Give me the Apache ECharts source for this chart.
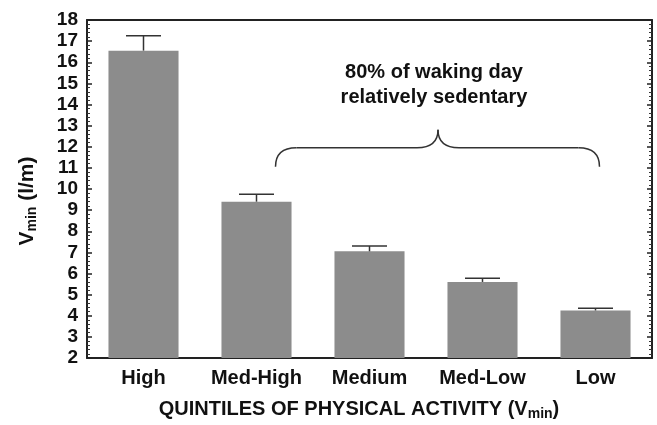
<!DOCTYPE html>
<html>
<head>
<meta charset="utf-8">
<script src="https://cdn.jsdelivr.net/npm/echarts@6/dist/echarts.min.js"></script>
<style>html,body{margin:0;padding:0;background:#fff}#c{width:657px;height:425px}</style>
</head>
<body>
<div id="c"></div>
<script>
const categories = ['High', 'Med-High', 'Medium', 'Med-Low', 'Low'];
const values = [16.55, 9.4, 7.05, 5.6, 4.25];
const errTop = [17.25, 9.75, 7.3, 5.77, 4.35];
const yTicks = [2, 18, 1];
const noteText = ['80% of waking day', 'relatively sedentary'];
const braceSpan = [1, 4];
const braceLevels = [11.05, 11.95, 12.8];

const FONT = '"Liberation Sans", Arial, sans-serif';
const chart = echarts.init(document.getElementById('c'));

const errData = values.map((v, i) => [i, v, errTop[i]]);

chart.setOption({
  animation: false,
  backgroundColor: '#fff',
  grid: { left: 87, right: 5, top: 20, bottom: 67, containLabel: false },
  xAxis: [{
    type: 'category', data: categories, position: 'bottom',
    axisLine: { lineStyle: { color: '#222', width: 2 } },
    axisTick: { show: false },
    axisLabel: { interval: 0, hideOverlap: false, color: '#111', fontFamily: FONT, fontWeight: 'bold', fontSize: 20, margin: 10 }
  }, {
    type: 'category', data: categories, position: 'top',
    axisLine: { show: true, lineStyle: { color: '#222', width: 2 } },
    axisTick: { show: false }, axisLabel: { show: false }
  }],
  yAxis: [{
    type: 'value', min: yTicks[0], max: yTicks[1], interval: yTicks[2],
    axisLine: { show: true, lineStyle: { color: '#222', width: 2 } },
    axisTick: { show: true, inside: true, length: 5, lineStyle: { color: '#222', width: 1.5 } },
    minorTick: { show: true, splitNumber: 5, length: 3, lineStyle: { color: '#333', width: 1 } },
    splitLine: { show: false },
    axisLabel: { hideOverlap: false, showMinLabel: true, showMaxLabel: true, color: '#111', fontFamily: FONT, fontWeight: 'bold', fontSize: 19, lineHeight: 19, margin: 9 }
  }, {
    type: 'value', position: 'right', min: yTicks[0], max: yTicks[1], interval: yTicks[2],
    axisLine: { show: true, lineStyle: { color: '#222', width: 2 } },
    axisTick: { show: true, inside: true, length: 5, lineStyle: { color: '#222', width: 1.5 } },
    minorTick: { show: true, splitNumber: 5, length: 3, lineStyle: { color: '#333', width: 1 } },
    splitLine: { show: false },
    axisLabel: { show: false }
  }],
  series: [{
    type: 'bar', data: values, barWidth: '62%',
    itemStyle: { color: '#8c8c8c' }, z: 2
  }, {
    type: 'custom', data: errData, z: 3,
    renderItem: function (params, api) {
      const base = api.coord([api.value(0), api.value(1)]);
      const top = api.coord([api.value(0), api.value(2)]);
      const hw = 17.5;
      return {
        type: 'group',
        children: [
          { type: 'line', shape: { x1: base[0], y1: base[1], x2: top[0], y2: top[1] }, style: { stroke: '#333', lineWidth: 1.5 } },
          { type: 'line', shape: { x1: top[0] - hw, y1: top[1], x2: top[0] + hw, y2: top[1] }, style: { stroke: '#333', lineWidth: 1.5 } }
        ]
      };
    }
  }]
});

// annotation brace anchored in data coordinates
const pL = chart.convertToPixel({ gridIndex: 0 }, [braceSpan[0], braceLevels[0]]);
const pR = chart.convertToPixel({ gridIndex: 0 }, [braceSpan[1], braceLevels[0]]);
const yMid = chart.convertToPixel({ yAxisIndex: 0 }, braceLevels[1]);
const yPeak = chart.convertToPixel({ yAxisIndex: 0 }, braceLevels[2]);
const xl = pL[0] + 19, xr = pR[0] + 4, yt = pL[1];
const xc = (xl + xr) / 2 + 0.5;
const r = 21;
const bs = { stroke: '#333', lineWidth: 1.5, fill: null };
const curve = (x1, y1, cx, cy, x2, y2) => ({ type: 'bezierCurve', silent: true, shape: { x1, y1, cpx1: cx, cpy1: cy, x2, y2 }, style: bs });
const seg = (x1, y1, x2, y2) => ({ type: 'line', silent: true, shape: { x1, y1, x2, y2 }, style: bs });

chart.setOption({
  graphic: [
    curve(xl, yt, xl, yMid, xl + r, yMid),
    seg(xl + r, yMid, xc - r, yMid),
    curve(xc - r, yMid, xc, yMid, xc, yPeak),
    curve(xc, yPeak, xc, yMid, xc + r, yMid),
    seg(xc + r, yMid, xr - r, yMid),
    curve(xr - r, yMid, xr, yMid, xr, yt),
    { type: 'text', x: 434, y: 72, style: { text: noteText[0], font: 'bold 20px ' + FONT, fill: '#111', align: 'center', verticalAlign: 'middle' } },
    { type: 'text', x: 434, y: 97, style: { text: noteText[1], font: 'bold 20px ' + FONT, fill: '#111', align: 'center', verticalAlign: 'middle' } },
    { type: 'text', x: 359, y: 409, style: {
        text: '{a|QUINTILES OF PHYSICAL ACTIVITY (V}{s|min}{a|)}',
        align: 'center', verticalAlign: 'middle',
        rich: {
          a: { font: 'bold 20px ' + FONT, fill: '#111', lineHeight: 22 },
          s: { font: 'bold 14px ' + FONT, fill: '#111', lineHeight: 22, padding: [10, 0, 0, 0] }
        }
    } },
    { type: 'text', x: 27, y: 201, rotation: Math.PI / 2, style: {
        text: '{a|V}{s|min}{a| (l/m)}',
        align: 'center', verticalAlign: 'middle',
        rich: {
          a: { font: 'bold 21px ' + FONT, fill: '#111', lineHeight: 22 },
          s: { font: 'bold 14px ' + FONT, fill: '#111', lineHeight: 22, padding: [10, 0, 0, 0] }
        }
    } }
  ]
});
</script>
</body>
</html>
